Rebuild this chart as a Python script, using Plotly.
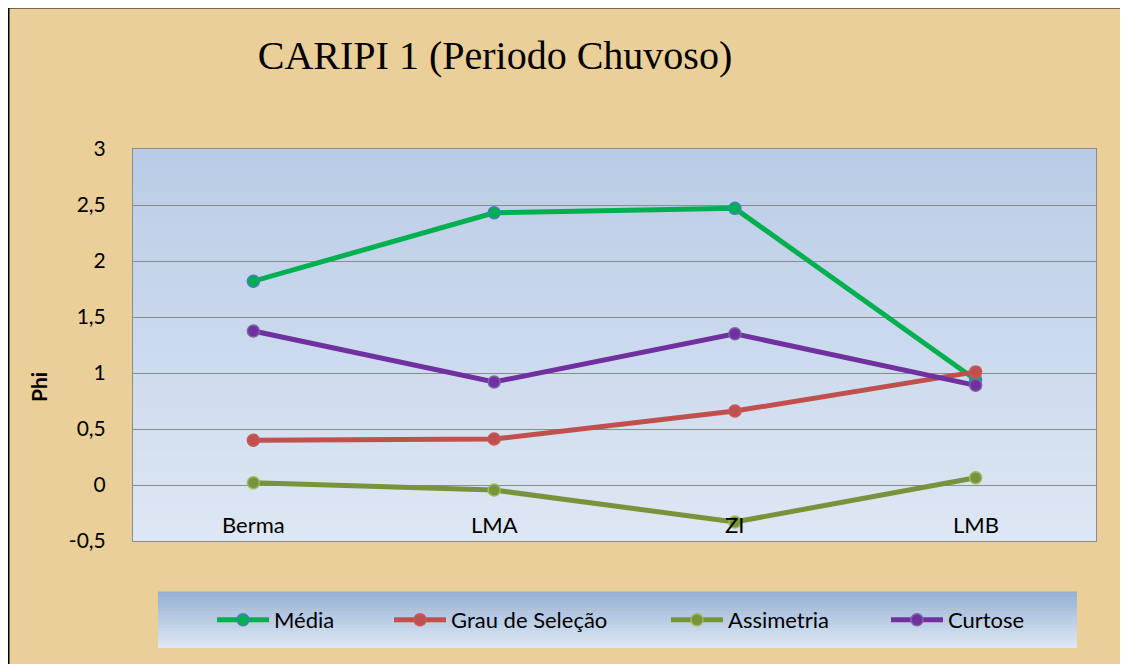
import plotly.graph_objects as go

# ---- data ----
categories = ["Berma", "LMA", "ZI", "LMB"]
media = [1.82, 2.43, 2.47, 0.94]
grau_selecao = [0.40, 0.41, 0.66, 1.01]
assimetria = [0.02, -0.045, -0.33, 0.065]
curtose = [1.375, 0.92, 1.35, 0.89]
y_tickvals = [-0.5, 0, 0.5, 1, 1.5, 2, 2.5, 3]
y_ticktext = ["-0,5", "0", "0,5", "1", "1,5", "2", "2,5", "3"]
title_text = "CARIPI 1 (Periodo Chuvoso)"
y_title = "Phi"

# page is 1128x664; the html body adds an 8px margin, so the figure starts at (8,8)
OFF = 8
W, H = 1128 - 2 * OFF, 664 - OFF
PL, PR, PT, PB = 133, 1096, 149, 541   # plot area in page pixels
L, T = PL - OFF, PT - OFF
R, B = (W + OFF) - PR, (H + OFF) - PB
PW, PH = PR - PL, PB - PT


def px_x(px):
    return (px - PL) / PW


def px_y(py):
    return (PB - py) / PH


def lerp(c1, c2, t):
    return "rgb(%d,%d,%d)" % tuple(round(a + (b - a) * t) for a, b in zip(c1, c2))


series = [
    ("Média", media, "#00B050", "#00B050", "#4A7EBB", "legend", 218),
    ("Grau de Seleção", grau_selecao, "#C0504D", "#C0504D", "#C55A57", "legend2", 395),
    ("Assimetria", assimetria, "#77933C", "#77933C", "#9BBB59", "legend3", 672),
    ("Curtose", curtose, "#7030A0", "#7030A0", "#8064A2", "legend4", 892),
]

fig = go.Figure()
for name, vals, lc, mc, me, leg, _ in series:
    fig.add_trace(go.Scatter(
        x=categories, y=vals, name=name, mode="lines+markers",
        line=dict(color=lc, width=5),
        marker=dict(size=12, color=mc, line=dict(color=me, width=1.5)),
        legend=leg,
    ))

shapes = []
# black frame: only its top and left edges fall inside the page
shapes.append(dict(type="line", xref="paper", yref="paper",
                   x0=px_x(8), x1=px_x(1200), y0=px_y(7), y1=px_y(7),
                   line=dict(color="black", width=3), layer="below"))
shapes.append(dict(type="line", xref="paper", yref="paper",
                   x0=px_x(8), x1=px_x(8), y0=px_y(7), y1=px_y(720),
                   line=dict(color="black", width=3), layer="below"))
# plot area gradient (top darker blue -> bottom light)
n = 40
top_c, bot_c = (185, 204, 230), (222, 231, 244)
for i in range(n):
    shapes.append(dict(type="rect", xref="x domain", yref="y domain",
                       x0=0, x1=1, y0=1 - (i + 1) / n, y1=1 - i / n + 0.002,
                       fillcolor=lerp(top_c, bot_c, i / (n - 1)), line=dict(width=0),
                       layer="below"))
# legend box gradient
lx0, lx1, ly_bot, ly_top = px_x(158), px_x(1077), px_y(648), px_y(592)
m = 20
ltop, lbot = (147, 177, 214), (222, 231, 244)
for i in range(m):
    shapes.append(dict(type="rect", xref="paper", yref="paper",
                       x0=lx0, x1=lx1,
                       y0=ly_top - (i + 1) * (ly_top - ly_bot) / m,
                       y1=ly_top - i * (ly_top - ly_bot) / m + 0.001,
                       fillcolor=lerp(ltop, lbot, i / (m - 1)), line=dict(width=0),
                       layer="below"))

annotations = []
for c in categories:
    annotations.append(dict(x=c, y=-0.357, xref="x", yref="y", text=c, showarrow=False,
                            font=dict(family="Lato", size=22, color="black")))
annotations.append(dict(x=px_x(38), y=px_y(387), xref="paper", yref="paper",
                        xanchor="center", yanchor="middle",
                        text="<b>%s</b>" % y_title, textangle=-90, showarrow=False,
                        font=dict(family="Lato", size=21, color="black")))

legend_common = dict(orientation="h", bgcolor="rgba(0,0,0,0)", borderwidth=0,
                     yanchor="middle", y=px_y(620), xanchor="left",
                     font=dict(family="Lato", size=22, color="black"), itemwidth=52)
legends = {}
for name, vals, lc, mc, me, leg, lx in series:
    legends[leg] = dict(legend_common, x=px_x(lx - 6))

fig.update_layout(
    width=W, height=H,
    margin=dict(l=L, r=R, t=T, b=B),
    paper_bgcolor="#EACF99",
    plot_bgcolor="rgba(0,0,0,0)",
    separators=",.",
    title=dict(text=title_text, x=px_x(495), xanchor="center", xref="paper",
               y=1 - (55 - OFF) / H, yanchor="middle",
               font=dict(family="Liberation Serif", size=40, color="black")),
    xaxis=dict(type="category", range=[-0.5, 3.5], showticklabels=False,
               showgrid=False, zeroline=False, showline=True, linecolor="#8C8C8C",
               linewidth=1, mirror=True, ticks=""),
    yaxis=dict(range=[-0.5, 3], tickvals=y_tickvals, ticktext=y_ticktext,
               showgrid=True, gridcolor="#8C8C8C", gridwidth=1, zeroline=False,
               showline=True, linecolor="#8C8C8C", linewidth=1, mirror=True,
               ticks="outside", ticklen=0, ticklabelstandoff=22,
               tickfont=dict(family="Lato", size=21, color="black")),
    shapes=shapes,
    annotations=annotations,
    showlegend=True,
    **legends,
)

fig.write_html("out.html")
